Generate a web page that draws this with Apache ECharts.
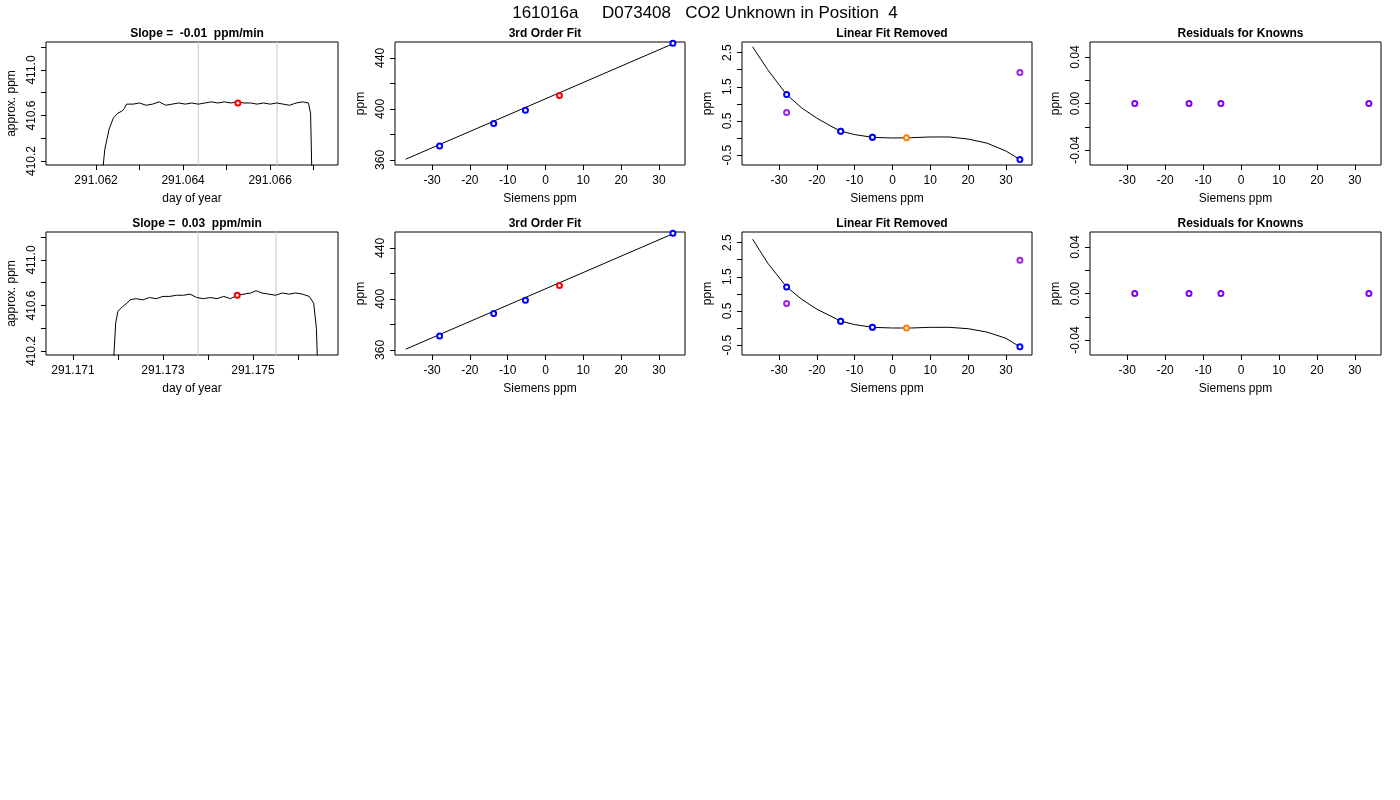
<!DOCTYPE html>
<html><head><meta charset="utf-8">
<script src="https://cdn.jsdelivr.net/npm/echarts@6/dist/echarts.min.js"></script>
<style>html,body{margin:0;background:#fff}#c{width:1400px;height:800px}</style>
</head><body><div id="c"></div>
<script>
// row 1 trace (day of year, approx ppm)
const trace1 = [
  [291.06210, 409.9], [291.06220, 410.30], [291.06230, 410.48], [291.06240, 410.58],
  [291.06250, 410.62], [291.06260, 410.64], [291.06265, 410.66], [291.06270, 410.70],
  [291.06285, 410.70], [291.06300, 410.71], [291.06315, 410.69], [291.06330, 410.70],
  [291.06345, 410.72], [291.06360, 410.69], [291.06375, 410.70], [291.06390, 410.71],
  [291.06405, 410.70], [291.06420, 410.71], [291.06435, 410.70], [291.06450, 410.71],
  [291.06465, 410.72], [291.06480, 410.71], [291.06495, 410.72], [291.06510, 410.71],
  [291.06525, 410.72], [291.06540, 410.71], [291.06555, 410.71], [291.06570, 410.70],
  [291.06585, 410.71], [291.06600, 410.70], [291.06615, 410.71], [291.06630, 410.70],
  [291.06645, 410.69], [291.06660, 410.71], [291.06675, 410.72], [291.06688, 410.71],
  [291.06693, 410.62], [291.06697, 409.9]
];
const trace2 = [
  [291.17187, 409.9], [291.17195, 410.45], [291.17200, 410.55], [291.17210, 410.59],
  [291.17220, 410.62], [291.17227, 410.65], [291.17240, 410.66], [291.17255, 410.65],
  [291.17270, 410.67], [291.17285, 410.66], [291.17300, 410.68], [291.17315, 410.68],
  [291.17330, 410.69], [291.17345, 410.69], [291.17360, 410.70], [291.17375, 410.67],
  [291.17390, 410.66], [291.17405, 410.67], [291.17420, 410.66], [291.17435, 410.68],
  [291.17450, 410.66], [291.17465, 410.69], [291.17480, 410.70], [291.17495, 410.71],
  [291.17507, 410.73], [291.17520, 410.71], [291.17535, 410.70], [291.17550, 410.69],
  [291.17565, 410.71], [291.17580, 410.70], [291.17595, 410.71], [291.17610, 410.70],
  [291.17625, 410.68], [291.17635, 410.62], [291.17641, 410.40], [291.17645, 409.9]
];
const vlines1 = [291.06435, 291.06616];
const vlines2 = [291.17378, 291.17551];
const marker1 = [[291.06526, 410.71]];
const marker2 = [[291.17465, 410.69]];
const slopes = ['-0.01', '0.03'];

// 3rd order fit (Siemens ppm vs ppm)
const fitLine = [[-37, 360.5], [34, 451.5]];
const knownsX = [-28.0, -13.7, -5.3, 33.7];
const knownsY1 = [371, 388.5, 399, 451.5];
const knownsY2 = [371, 388.5, 399, 451.5];
const unknown1 = [[3.7, 410.5]];
const unknown2 = [[3.7, 410.5]];

// linear fit removed
const curve1 = [[-37, 2.67], [-33, 2.0], [-28, 1.27], [-24, 0.88], [-20, 0.58], [-16, 0.33],
  [-13.7, 0.2], [-10, 0.1], [-5.3, 0.02], [0, 0.0], [5, 0.01], [10, 0.03], [15, 0.03],
  [20, -0.03], [25, -0.15], [30, -0.38], [33.7, -0.63]];
const curve2 = [[-37, 2.6], [-33, 1.9], [-28, 1.2], [-24, 0.84], [-20, 0.55], [-16, 0.33],
  [-13.7, 0.2], [-10, 0.1], [-5.3, 0.02], [0, 0.0], [5, 0.0], [10, 0.02], [15, 0.02],
  [20, -0.02], [25, -0.12], [30, -0.3], [33.7, -0.55]];
const resBlue1 = [[-28, 1.27], [-13.7, 0.2], [-5.3, 0.02], [33.7, -0.63]];
const resPurple1 = [[-28, 0.75], [-13.7, 0.2], [-5.3, 0.02], [33.7, 1.92]];
const resOrange1 = [[3.7, 0.01]];
const resBlue2 = [[-28, 1.2], [-13.7, 0.2], [-5.3, 0.02], [33.7, -0.55]];
const resPurple2 = [[-28, 0.72], [-13.7, 0.2], [-5.3, 0.02], [33.7, 1.98]];
const resOrange2 = [[3.7, 0.0]];

// residuals for knowns
const resid = [0, 0, 0, 0];

const cols = [46, 395, 742, 1090];
const widths = [292, 290, 290, 291];
const tops = [42, 232];
const H = 123;
const F = 'Liberation Sans, Arial, sans-serif';

const grids = [], xAxes = [], yAxes = [], series = [], titles = [];
let gi = 0;

function axis(min, max, ticks, labels, name, isY, fmt) {
  return {
    type: 'value', min, max, gridIndex: gi,
    name, nameLocation: 'middle', nameGap: 28,
    nameTextStyle: { fontFamily: F, fontSize: 12, color: '#000' },
    axisLine: { show: false, onZero: false },
    axisTick: { show: true, inside: false, length: 5, lineStyle: { color: '#000' }, customValues: ticks },
    axisLabel: { show: true, fontFamily: F, fontSize: 12, color: '#000', rotate: isY ? 90 : 0,
      margin: isY ? 8 : 10, customValues: labels, formatter: fmt },
    splitLine: { show: false }
  };
}

function addPanel(r, c, title, xa, ya, ss) {
  grids.push({ left: cols[c], top: tops[r], width: widths[c], height: H, show: true,
    borderColor: '#000', borderWidth: 1, containLabel: false });
  titles.push({ text: title, left: cols[c] + widths[c] / 2, top: tops[r] - 19, textAlign: 'center',
    textStyle: { fontFamily: F, fontSize: 12, fontWeight: 'bold', color: '#000' } });
  xAxes.push(xa); yAxes.push(ya);
  ss.forEach(s => { s.xAxisIndex = gi; s.yAxisIndex = gi; s.clip = true; s.silent = true; series.push(s); });
  gi++;
}

const pts = (data, color, z) => ({ type: 'scatter', data, symbol: 'emptyCircle', symbolSize: 5,
  itemStyle: { color, borderColor: color, borderWidth: 0.9, opacity: 1 }, z: z || 3 });
const line = (data, color, z) => ({ type: 'line', data, showSymbol: false,
  lineStyle: { color: color || '#000', width: 1 }, z: z || 2 });
// vertical guide lines span beyond the y range and get clipped by the grid
const vlines = (xs) => xs.map(x => line([[x, 409], [x, 412]], '#c8c8c8', 1));

const ppmTicks = [410.2, 410.4, 410.6, 410.8, 411.0, 411.2];
const ppmLabels = [410.2, 410.6, 411.0];
const sxTicks = [-30, -20, -10, 0, 10, 20, 30];
const f1 = v => v.toFixed(1), f3 = v => v.toFixed(3), f2 = v => v.toFixed(2);

const rows = [
  { tr: trace1, vl: vlines1, mk: marker1, xmin: 291.06085, xmax: 291.06756,
    xt: [291.062, 291.063, 291.064, 291.065, 291.066, 291.067], xl: [291.062, 291.064, 291.066],
    k: knownsY1, u: unknown1, cv: curve1, rb: resBlue1, rp: resPurple1, ro: resOrange1 },
  { tr: trace2, vl: vlines2, mk: marker2, xmin: 291.1704, xmax: 291.17689,
    xt: [291.171, 291.172, 291.173, 291.174, 291.175, 291.176], xl: [291.171, 291.173, 291.175],
    k: knownsY2, u: unknown2, cv: curve2, rb: resBlue2, rp: resPurple2, ro: resOrange2 }
];

rows.forEach((d, r) => {
  addPanel(r, 0, 'Slope =  ' + slopes[r] + '  ppm/min',
    axis(d.xmin, d.xmax, d.xt, d.xl, 'day of year', false, f3),
    axis(410.165, 411.246, ppmTicks, ppmLabels, 'approx. ppm', true, f1),
    [...vlines(d.vl), line(d.tr), pts(d.mk, '#ff0000', 5)]);
  addPanel(r, 1, '3rd Order Fit',
    axis(-39.8, 36.9, sxTicks, sxTicks, 'Siemens ppm', false),
    axis(356, 452.5, [360, 380, 400, 420, 440], [360, 400, 440], 'ppm', true),
    [line(fitLine), pts(knownsX.map((x, i) => [x, d.k[i]]), '#0000ff'), pts(d.u, '#ff0000')]);
  addPanel(r, 2, 'Linear Fit Removed',
    axis(-39.8, 36.9, sxTicks, sxTicks, 'Siemens ppm', false),
    axis(-0.79, 2.81, [-0.5, 0, 0.5, 1, 1.5, 2, 2.5], [-0.5, 0.5, 1.5, 2.5], 'ppm', true, f1),
    [line(d.cv), pts(d.rp, '#a020f0'), pts(d.rb, '#0000ff', 4), pts(d.ro, '#ff7f00', 5)]);
  addPanel(r, 3, 'Residuals for Knowns',
    axis(-39.8, 36.9, sxTicks, sxTicks, 'Siemens ppm', false),
    axis(-0.0529, 0.0529, [-0.04, -0.02, 0, 0.02, 0.04], [-0.04, 0, 0.04], 'ppm', true, f2),
    [pts(knownsX.map((x, i) => [x, resid[i]]), '#7f00ff')]);
});

titles.push({ text: '161016a     D073408   CO2 Unknown in Position  4', left: 700, top: 0, textAlign: 'center',
  textStyle: { fontFamily: F, fontSize: 17, fontWeight: 'normal', color: '#000' } });

const chart = echarts.init(document.getElementById('c'));
chart.setOption({ animation: false, title: titles, grid: grids, xAxis: xAxes, yAxis: yAxes, series });
</script></body></html>
